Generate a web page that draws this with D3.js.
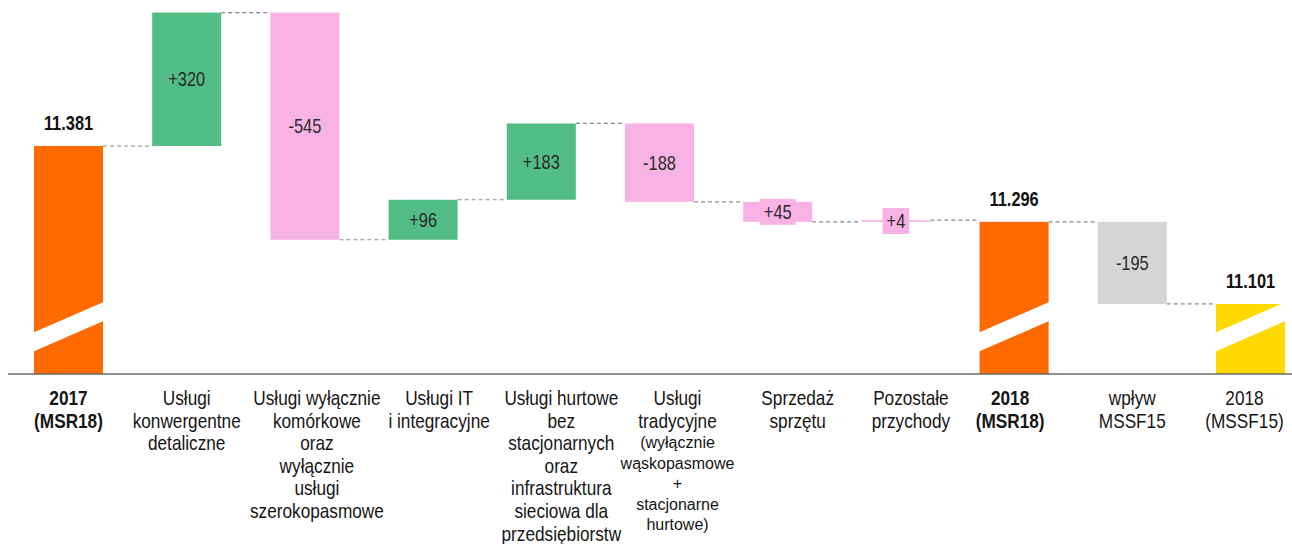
<!DOCTYPE html>
<html><head><meta charset="utf-8">
<script src="https://cdn.jsdelivr.net/npm/d3@7"></script>
<style>
html,body{margin:0;padding:0;background:#fff;}
svg{display:block;}
text{font-family:"Liberation Sans",Arial,sans-serif;}
</style></head>
<body><svg id="c" width="1292" height="544"></svg>
<script>
// ---- data ----
const categories = [
  [["2017"],["(MSR18)"]],
  [["Usługi"],["konwergentne"],["detaliczne"]],
  [["Usługi wyłącznie"],["komórkowe"],["oraz"],["wyłącznie"],["usługi"],["szerokopasmowe"]],
  [["Usługi IT"],["i integracyjne"]],
  [["Usługi hurtowe"],["bez"],["stacjonarnych"],["oraz"],["infrastruktura"],["sieciowa dla"],["przedsiębiorstw"]],
  [["Usługi"],["tradycyjne"],["(wyłącznie","s"],["wąskopasmowe","s"],["+","s"],["stacjonarne","s"],["hurtowe)","s"]],
  [["Sprzedaż"],["sprzętu"]],
  [["Pozostałe"],["przychody"]],
  [["2018"],["(MSR18)"]],
  [["wpływ"],["MSSF15"]],
  [["2018"],["(MSSF15)"]]
];
const boldCategory = [true,false,false,false,false,false,false,false,true,false,false];
const barKind = ["total","pos","neg","pos","pos","neg","neg","neg","total","adj","final"];
// level reached after each bar, as drawn (broken axis, values in mln zł)
const levels = [11381, 11701, 11156, 11252, 11435, 11247, 11199, 11203, 11199, 11002, 11002];
const valueLabels = ["11.381","+320","-545","+96","+183","-188","+45","+4","11.296","-195","11.101"];
const axisMin = 10834, axisMax = 11700;

// ---- styles / layout ----
const kindColor = {total:"#ff6a00", pos:"#52bd85", neg:"#f9b2e4", adj:"#d5d5d5", final:"#ffd900"};
const NARROW = 0.82;
const labelNudge = [0, 0, 12, 16, 20, 18, 20, 15, -4, 0, -6];

const svg = d3.select("#c");
const W = 1292;
const x = d3.scaleBand().domain(d3.range(categories.length)).range([9.4, 1309.6])
  .paddingInner(0.416).paddingOuter(0.208);
const y = d3.scaleLinear().domain([axisMin, axisMax]).range([374, 13]);

function ntext(parent, cx, cy, str, size, weight, fill, sx) {
  const gg = parent.append("g").attr("transform", `translate(${cx},${cy}) scale(${sx},1)`);
  return gg.append("text").attr("x", 0).attr("y", 0).attr("text-anchor", "middle")
    .attr("font-size", size).attr("font-weight", weight).attr("fill", fill).text(str);
}

const bars = levels.map((lv, i) => {
  const isTotal = barKind[i] === "total" || barKind[i] === "final";
  const start = isTotal ? axisMin : levels[i-1];
  return {i, start, end: lv, isTotal};
});

// connectors
const conn = svg.append("g");
bars.slice(0, -1).forEach(b => {
  conn.append("line")
    .attr("x1", x(b.i) + x.bandwidth()).attr("x2", x(b.i + 1))
    .attr("y1", y(b.end)).attr("y2", y(b.end))
    .attr("stroke", "#8a8a8a").attr("stroke-width", 1.2).attr("stroke-dasharray", "4,3");
});

// bars
const g = svg.append("g");
bars.forEach(b => {
  const y0 = y(Math.max(b.start, b.end)), y1 = y(Math.min(b.start, b.end));
  g.append("rect").attr("x", x(b.i)).attr("width", x.bandwidth())
    .attr("y", y0).attr("height", Math.max(1.5, y1 - y0))
    .attr("fill", kindColor[barKind[b.i]]);
});

// break marks on total bars
bars.filter(b => b.isTotal).forEach(b => {
  const x0 = x(b.i) - 4, x1 = x(b.i) + x.bandwidth() + 4;
  const yb = y(axisMin);
  const slope = 30 / 69;
  const yl = yb - 40, yr = yl - (x1 - x0) * slope, th = 19;
  svg.append("polygon")
    .attr("points", [[x0, yl], [x1, yr], [x1, yr + th], [x0, yl + th]].map(p => p.join(",")).join(" "))
    .attr("fill", "#fff");
});

// axis line
svg.append("line").attr("x1", 8).attr("x2", W).attr("y1", y(axisMin)).attr("y2", y(axisMin))
  .attr("stroke", "#6a6a6a").attr("stroke-width", 1.6);

// value labels
const lab = svg.append("g");
bars.forEach(b => {
  const cx = x(b.i) + x.bandwidth() / 2;
  if (b.isTotal) {
    ntext(lab, cx, y(b.end) - 16, valueLabels[b.i], 20, "bold", "#111", NARROW);
  } else {
    const y0 = y(Math.max(b.start, b.end)), y1 = y(Math.min(b.start, b.end));
    const cy = (y0 + y1) / 2;
    if (y1 - y0 < 24) {
      const tmp = ntext(lab, cx, cy + 7, valueLabels[b.i], 20, "normal", "#2a2a2a", NARROW);
      const w = tmp.node().getBBox().width * NARROW;
      lab.insert("rect", () => tmp.node().parentNode)
        .attr("x", cx - w / 2 - 4).attr("y", cy - 13).attr("width", w + 8).attr("height", 26)
        .attr("fill", kindColor[barKind[b.i]]);
    } else {
      ntext(lab, cx, cy + 7, valueLabels[b.i], 20, "normal", "#2a2a2a", NARROW);
    }
  }
});

// category labels
categories.forEach((lines, i) => {
  const cx = x(i) + x.bandwidth() / 2 + labelNudge[i];
  let yy = 405;
  lines.forEach((ln, k) => {
    const small = ln[1] === "s";
    if (k > 0) yy += small ? 20.5 : 22.6;
    ntext(svg, cx, yy, ln[0], small ? 16 : 21, boldCategory[i] ? "bold" : "normal",
      "#151515", small ? 1.0 : NARROW);
  });
});
</script></body></html>
